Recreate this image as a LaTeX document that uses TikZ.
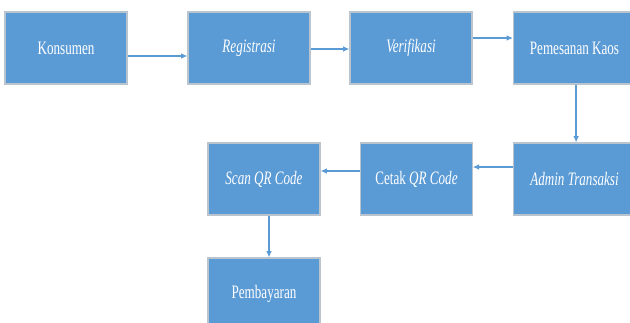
\documentclass[tikz,border=0pt]{standalone}
\usepackage{fontspec}
\setmainfont{Liberation Serif}[FakeStretch=0.69]
\usepackage{tikz}
\usetikzlibrary{arrows.meta}
\definecolor{boxblue}{HTML}{5B9BD5}
\definecolor{boxline}{HTML}{B9C4CF}

\begin{document}
\begin{tikzpicture}[x=0.025cm,y=-0.025cm,
    proses/.style={draw=boxline, line width=0.8pt, fill=boxblue, text=white,
      minimum width=3.05cm, minimum height=1.8cm, inner sep=0pt,
      font=\fontsize{13.5}{16}\selectfont},
    alur/.style={draw=boxblue, line width=0.9pt, -{Latex[length=4.5pt,width=4pt]}}]
  \useasboundingbox (0,0) rectangle (630,322);
  \clip (0,0) rectangle (630,322);

  \node[proses] (konsumen) at (66,48) {Konsumen};
  \node[proses] (registrasi) at (249,48) {\textit{Registrasi}};
  \node[proses] (verifikasi) at (411,48) {\textit{Verifikasi}};
  \node[proses] (pemesanan) at (574.5,48) {Pemesanan Kaos};
  \node[proses] (admin) at (574.5,179) {\textit{Admin Transaksi}};
  \node[proses, minimum width=2.78cm] (cetak) at (416.5,179) {Cetak \textit{QR Code}};
  \node[proses, minimum width=2.8cm] (scan) at (264,179) {\textit{Scan QR Code}};
  \node[proses, minimum width=2.8cm] (bayar) at (264,294) {Pembayaran};

  \draw[alur] ([yshift=-0.2cm]konsumen.east) -- ([yshift=-0.2cm]registrasi.west);
  \draw[alur] ([yshift=-0.025cm]registrasi.east) -- ([yshift=-0.025cm]verifikasi.west);
  \draw[alur] ([yshift=0.25cm]verifikasi.east) -- ([yshift=0.25cm]pemesanan.west);
  \draw[alur] ([xshift=0.04cm]pemesanan.south) -- ([xshift=0.04cm]admin.north);
  \draw[alur] ([yshift=0.3cm]admin.west) -- ([yshift=0.3cm]cetak.east);
  \draw[alur] ([yshift=0.2cm]cetak.west) -- ([yshift=0.2cm]scan.east);
  \draw[alur] ([xshift=0.125cm]scan.south) -- ([xshift=0.125cm]bayar.north);
\end{tikzpicture}
\end{document}
